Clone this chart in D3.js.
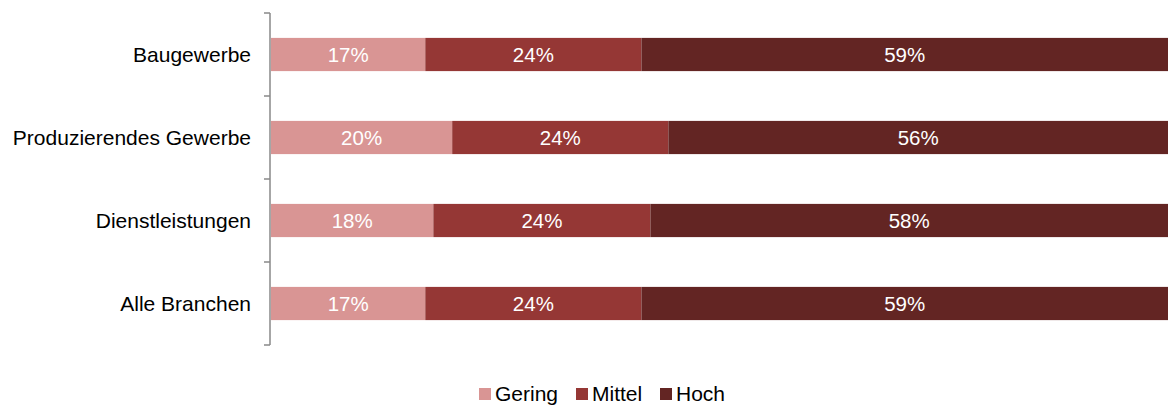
<!DOCTYPE html>
<html lang="en">
<head>
	<meta charset="UTF-8">
	<title>Branchen</title>
	<script src="https://d3js.org/d3.v7.min.js"></script>
	<style>
		body { margin: 0; background: #fff; }
		text { font-family: "Liberation Sans", Arial, sans-serif; }
	</style>
</head>
<body>
	<svg width="1168" height="405"></svg>
	<script>
		// data
		var categories = ["Baugewerbe", "Produzierendes Gewerbe", "Dienstleistungen", "Alle Branchen"];
		var gering = [17.2, 20.2, 18.1, 17.2];
		var mittel = [24.1, 24.1, 24.2, 24.1];
		var hoch = [58.7, 55.7, 57.7, 58.7];
		var seriesNames = ["Gering", "Mittel", "Hoch"];
		var colors = ["#d99594", "#953735", "#632523"];

		var margin = {top: 13, right: 0, bottom: 60, left: 270};
		var width = 1168 - margin.left - margin.right,
			height = 405 - margin.top - margin.bottom;

		var svg = d3.select("svg").append("g")
			.attr("transform", "translate(" + margin.left + "," + margin.top + ")");

		var rows = categories.map(function(c, i) {
			return {cat: c, Gering: gering[i], Mittel: mittel[i], Hoch: hoch[i]};
		});
		var stack = d3.stack().keys(seriesNames)(rows);

		var x = d3.scaleLinear().domain([0, 100]).range([1, width]);
		var y = d3.scaleBand().domain(categories).range([0, height]).paddingInner(0.6).paddingOuter(0.3);
		var color = d3.scaleOrdinal().domain(seriesNames).range(colors);

		// bars
		var layer = svg.selectAll(".layer")
			.data(stack)
			.enter().append("g")
			.attr("class", "layer")
			.attr("fill", function(d) { return color(d.key); });

		layer.selectAll("rect")
			.data(function(d) { return d; })
			.enter().append("rect")
			.attr("x", function(d) { return x(d[0]); })
			.attr("y", function(d) { return y(d.data.cat); })
			.attr("width", function(d) { return x(d[1]) - x(d[0]); })
			.attr("height", y.bandwidth());

		layer.selectAll("text")
			.data(function(d) { return d; })
			.enter().append("text")
			.attr("x", function(d) { return (x(d[0]) + x(d[1])) / 2; })
			.attr("y", function(d) { return y(d.data.cat) + y.bandwidth() / 2; })
			.attr("dy", "0.35em")
			.attr("text-anchor", "middle")
			.attr("fill", "#fff")
			.style("font-size", "20.5px")
			.text(function(d) { return Math.round(d[1] - d[0]) + "%"; });

		// category axis, ticks between the bands
		var step = y.step();
		var bounds = d3.range(categories.length + 1).map(function(i) { return i * step; });
		var axis = svg.append("g").attr("stroke", "#888").attr("stroke-width", 1.5);
		axis.append("line").attr("x1", 0).attr("x2", 0).attr("y1", 0).attr("y2", height);
		axis.selectAll(".tick")
			.data(bounds)
			.enter().append("line")
			.attr("x1", -6).attr("x2", 0)
			.attr("y1", function(d) { return d; })
			.attr("y2", function(d) { return d; });

		svg.selectAll(".catlabel")
			.data(categories)
			.enter().append("text")
			.attr("x", -19)
			.attr("y", function(d) { return y(d) + y.bandwidth() / 2; })
			.attr("dy", "0.35em")
			.attr("text-anchor", "end")
			.attr("fill", "#000")
			.style("font-size", "21px")
			.text(function(d) { return d; });

		// legend
		var legendX = [479, 576, 660];
		var legend = d3.select("svg").selectAll(".legend")
			.data(seriesNames)
			.enter().append("g")
			.attr("class", "legend")
			.attr("transform", function(d, i) { return "translate(" + legendX[i] + ",388)"; });

		legend.append("rect")
			.attr("width", 12).attr("height", 12)
			.attr("fill", function(d) { return color(d); });

		legend.append("text")
			.attr("x", 16)
			.attr("y", 6)
			.attr("dy", "0.35em")
			.style("font-size", "21px")
			.text(function(d) { return d; });
	</script>
</body>
</html>
